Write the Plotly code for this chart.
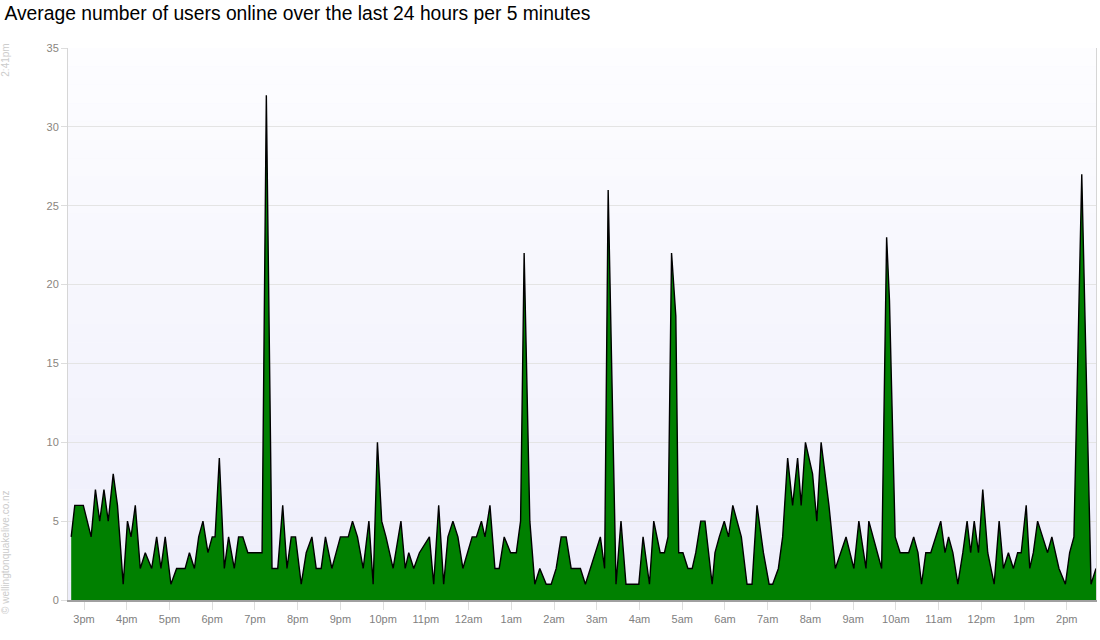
import pandas as pd
import plotly.graph_objects as go

TITLE = 'Average number of users online over the last 24 hours per 5 minutes'
START_LABEL = '2:41pm'
CREDIT = '© wellingtonquakelive.co.nz'

# clock times of each sample (wraps past midnight) and users online
times = [
    '14:42', '14:47', '14:59', '15:10', '15:16', '15:22', '15:28', '15:34', '15:41', '15:47',
    '15:55', '16:01', '16:06', '16:12', '16:19', '16:26', '16:35', '16:42', '16:48', '16:54',
    '17:02', '17:10', '17:22', '17:28', '17:35', '17:41', '17:47', '17:54', '18:00', '18:04',
    '18:10', '18:17', '18:23', '18:31', '18:37', '18:43', '18:50', '19:10', '19:16', '19:24',
    '19:32', '19:39', '19:45', '19:51', '19:57', '20:05', '20:12', '20:20', '20:26', '20:33',
    '20:39', '20:48', '20:54', '21:00', '21:11', '21:17', '21:24', '21:32', '21:40', '21:46',
    '21:52', '21:58', '22:04', '22:14', '22:25', '22:31', '22:36', '22:43', '22:51', '23:05',
    '23:11', '23:18', '23:25', '23:31', '23:38', '23:45', '23:52', '00:05', '00:11', '00:18',
    '00:23', '00:30', '00:37', '00:43', '00:50', '00:59', '01:07', '01:13', '01:18', '01:26',
    '01:33', '01:40', '01:49', '01:56', '02:03', '02:10', '02:17', '02:24', '02:37', '02:44',
    '03:05', '03:11', '03:16', '03:27', '03:34', '03:41', '03:59', '04:05', '04:14', '04:20',
    '04:29', '04:35', '04:40', '04:45', '04:51', '04:55', '05:01', '05:08', '05:14', '05:19',
    '05:26', '05:32', '05:42', '05:46', '05:52', '05:59', '06:05', '06:11', '06:23', '06:31',
    '06:38', '06:45', '06:54', '07:02', '07:07', '07:15', '07:21', '07:28', '07:35', '07:42',
    '07:47', '07:53', '08:03', '08:09', '08:15', '08:26', '08:35', '08:43', '08:50', '09:01',
    '09:08', '09:18', '09:22', '09:40', '09:47', '09:51', '09:59', '10:06', '10:18', '10:25',
    '10:31', '10:36', '10:42', '10:49', '10:56', '11:03', '11:09', '11:14', '11:20', '11:27',
    '11:34', '11:40', '11:45', '11:50', '11:56', '12:02', '12:09', '12:18', '12:25', '12:31',
    '12:38', '12:45', '12:51', '12:56', '13:03', '13:08', '13:13', '13:19', '13:26', '13:33',
    '13:39', '13:49', '13:58', '14:04', '14:10', '14:21', '14:34', '14:41',
]
users = [
    4, 6, 6, 4, 7, 5, 7, 5, 8, 6,
    1, 5, 4, 6, 2, 3, 2, 4, 2, 4,
    1, 2, 2, 3, 2, 4, 5, 3, 4, 4,
    9, 2, 4, 2, 4, 4, 3, 3, 32, 2,
    2, 6, 2, 4, 4, 1, 3, 4, 2, 2,
    4, 2, 3, 4, 4, 5, 4, 2, 5, 1,
    10, 5, 4, 2, 5, 2, 3, 2, 3, 4,
    1, 6, 1, 4, 5, 4, 2, 4, 4, 5,
    4, 6, 2, 2, 4, 3, 3, 5, 22, 5,
    1, 2, 1, 1, 2, 4, 4, 2, 2, 1,
    4, 2, 26, 1, 5, 1, 1, 4, 1, 5,
    3, 3, 4, 22, 18, 3, 3, 2, 2, 3,
    5, 5, 1, 3, 4, 5, 4, 6, 4, 1,
    1, 6, 3, 1, 1, 2, 4, 9, 6, 9,
    6, 10, 8, 5, 10, 6, 2, 3, 4, 2,
    5, 2, 5, 2, 23, 19, 4, 3, 3, 4,
    3, 1, 3, 3, 4, 5, 3, 4, 3, 1,
    3, 5, 3, 5, 3, 7, 3, 1, 5, 2,
    3, 2, 3, 3, 6, 2, 3, 5, 4, 3,
    4, 2, 1, 3, 4, 27, 1, 2,
]
hour_labels = ['3pm', '4pm', '5pm', '6pm', '7pm', '8pm', '9pm', '10pm', '11pm', '12am',
               '1am', '2am', '3am', '4am', '5am', '6am', '7am', '8am', '9am', '10am',
               '11am', '12pm', '1pm', '2pm']

DAY = '2011-03-01'
first = pd.Timestamp(f'{DAY} {times[0]}')
stamps = []
for t in times:
    ts = pd.Timestamp(f'{DAY} {t}')
    if ts < first:
        ts += pd.Timedelta(days=1)
    stamps.append(ts)

tickvals = [pd.Timestamp(f'{DAY} 15:00') + pd.Timedelta(hours=i) for i in range(len(hour_labels))]

FONT = 'Liberation Sans, Arial, sans-serif'
GREY = '#8a857e'

fig = go.Figure()
fig.add_trace(go.Scatter(
    x=stamps, y=users,
    mode='lines',
    fill='tozeroy',
    fillcolor='#008000',
    line=dict(color='#000000', width=1.4),
    hoverinfo='x+y',
))

# vertical gradient for the plot background
n_bands = 30
shapes = []
for i in range(n_bands):
    f = i / (n_bands - 1)
    r = round(238 + (253 - 238) * f)
    g = round(238 + (253 - 238) * f)
    b = round(251 + (255 - 251) * f)
    shapes.append(dict(type='rect', xref='paper', yref='paper',
                       x0=0, x1=1, y0=i / n_bands, y1=(i + 1) / n_bands,
                       fillcolor=f'rgb({r},{g},{b})', line=dict(width=0), layer='below'))

fig.update_layout(
    width=1100, height=640,
    margin=dict(l=68, r=4, t=48, b=40),
    paper_bgcolor='white',
    plot_bgcolor='#f6f6fd',
    showlegend=False,
    shapes=shapes,
    font=dict(family=FONT, size=11, color=GREY),
    title=dict(text=TITLE, x=0.004, xanchor='left', xref='container',
               y=0.98, yanchor='middle', yref='container',
               font=dict(family=FONT, size=19.3, color='#000000')),
    annotations=[
        dict(text=START_LABEL, xref='paper', yref='paper', x=-0.0603, y=0.977,
             xanchor='center', yanchor='middle',
             textangle=-90, showarrow=False, font=dict(size=10, color='#cccccc')),
        dict(text=CREDIT, xref='paper', yref='paper', x=-0.0603, y=0.087,
             xanchor='center', yanchor='middle',
             textangle=-90, showarrow=False, font=dict(size=10, color='#cccccc')),
    ],
)

fig.update_xaxes(
    type='date',
    range=[pd.Timestamp(f'{DAY} 14:37:30'), stamps[-1]],
    tickvals=tickvals, ticktext=hour_labels,
    showgrid=False,
    showline=True, linecolor='#a0a0a0', linewidth=2,
    ticks='outside', ticklen=8, tickcolor='#dddddd',
    tickfont=dict(size=11, color='#808080'),
)
fig.update_yaxes(
    range=[0, 35], dtick=5,
    showgrid=True, gridcolor='#e4e4e4', gridwidth=1,
    zeroline=False,
    showline=True, linecolor='#d6d6d6', linewidth=1, mirror=True,
    ticks='outside', ticklen=6, tickcolor='#dddddd',
    tickfont=dict(size=11, color=GREY),
)

# page body margin would shift the fixed-size figure, so drop it
fig.write_html('out.html', config={'displayModeBar': False},
               post_script="document.body.style.margin='0px';")
